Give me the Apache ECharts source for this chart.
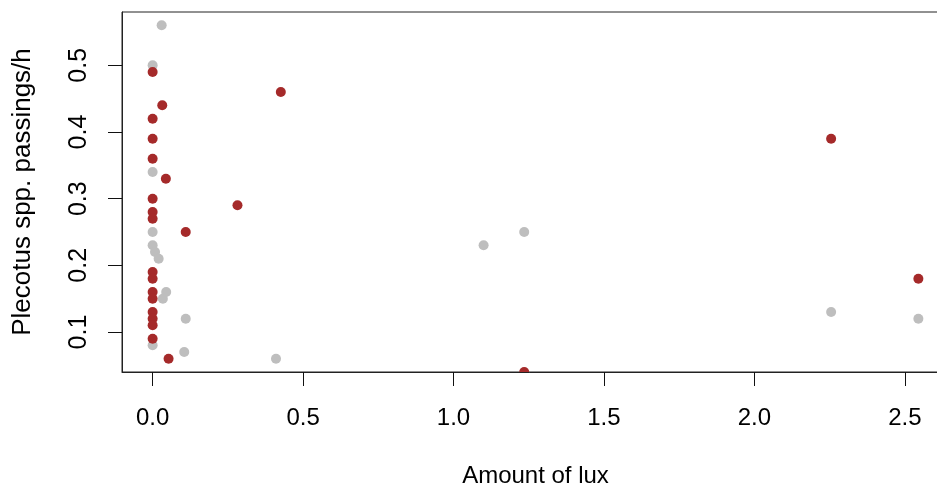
<!DOCTYPE html>
<html>
<head>
<meta charset="utf-8">
<script src="https://cdn.jsdelivr.net/npm/echarts@6/dist/echarts.min.js"></script>
<style>html,body{margin:0;padding:0;background:#fff;}#c{width:937px;height:486px;}</style>
</head>
<body>
<div id="c"></div>
<script>
// Data
const grayLux = [0.03, 0.00, 0.00, 0.00, 0.00, 0.008, 0.02, 0.045, 0.034, 0.11, 0.00, 0.105, 0.41, 1.10, 1.235, 2.255, 2.545];
const grayPass = [0.56, 0.50, 0.34, 0.25, 0.23, 0.22, 0.21, 0.16, 0.15, 0.12, 0.08, 0.07, 0.06, 0.23, 0.25, 0.13, 0.12];
const redLux = [0.00, 0.032, 0.00, 0.00, 0.00, 0.044, 0.00, 0.00, 0.00, 0.11, 0.00, 0.00, 0.00, 0.00, 0.00, 0.00, 0.00, 0.00, 0.053, 0.282, 0.426, 1.235, 2.255, 2.545];
const redPass = [0.49, 0.44, 0.42, 0.39, 0.36, 0.33, 0.30, 0.28, 0.27, 0.25, 0.19, 0.18, 0.16, 0.15, 0.13, 0.12, 0.11, 0.09, 0.06, 0.29, 0.46, 0.04, 0.39, 0.18];
const xTicks = [0, 0.5, 1.0, 1.5, 2.0, 2.5];
const yTicks = [0.1, 0.2, 0.3, 0.4, 0.5];
const xTitle = 'Amount of lux';
const yTitle = 'Plecotus spp. passings/h';

const zip = (a, b) => a.map((v, i) => [v, b[i]]);
const dot = (color) => function (params, api) {
  const p = api.coord([api.value(0), api.value(1)]);
  return { type: 'circle', shape: { cx: p[0], cy: p[1], r: 5 }, style: { fill: color } };
};
const font = 'Liberation Sans, Arial, sans-serif';
const chart = echarts.init(document.getElementById('c'), null, { renderer: 'canvas' });
chart.setOption({
  animation: false,
  backgroundColor: '#fff',
  grid: { left: 122, top: 12, width: 827, bottom: 114, show: true, borderColor: '#222', borderWidth: 1, backgroundColor: 'transparent', containLabel: false, outerBoundsMode: 'none' },
  xAxis: {
    type: 'value', min: -0.1018, max: 2.6468,
    axisLine: { show: true, onZero: false, lineStyle: { color: '#222' } }, splitLine: { show: false },
    axisTick: { show: true, inside: false, length: 14, customValues: xTicks, lineStyle: { color: '#111' } },
    axisLabel: { customValues: xTicks, formatter: v => v.toFixed(1), margin: 34, fontSize: 24, color: '#000', fontFamily: font },
    name: xTitle, nameLocation: 'middle', nameGap: 92,
    nameTextStyle: { fontSize: 24, color: '#000', fontFamily: font }
  },
  yAxis: {
    type: 'value', min: 0.04, max: 0.58,
    axisLine: { show: true, onZero: false, lineStyle: { color: '#222' } }, splitLine: { show: false },
    axisTick: { show: true, inside: false, length: 14, customValues: yTicks, lineStyle: { color: '#111' } },
    axisLabel: { customValues: yTicks, rotate: 90, formatter: v => v.toFixed(1), margin: 30, fontSize: 25, color: '#000', fontFamily: font },
    name: yTitle, nameLocation: 'middle', nameGap: 86, nameRotate: 90,
    nameTextStyle: { fontSize: 26, color: '#000', fontFamily: font }
  },
  series: [
    { type: 'custom', clip: true, renderItem: dot('#BEBEBE'), data: zip(grayLux, grayPass), z: 2 },
    { type: 'custom', clip: true, renderItem: dot('#A52A2A'), data: zip(redLux, redPass), z: 3 }
  ]
});
</script>
</body>
</html>
